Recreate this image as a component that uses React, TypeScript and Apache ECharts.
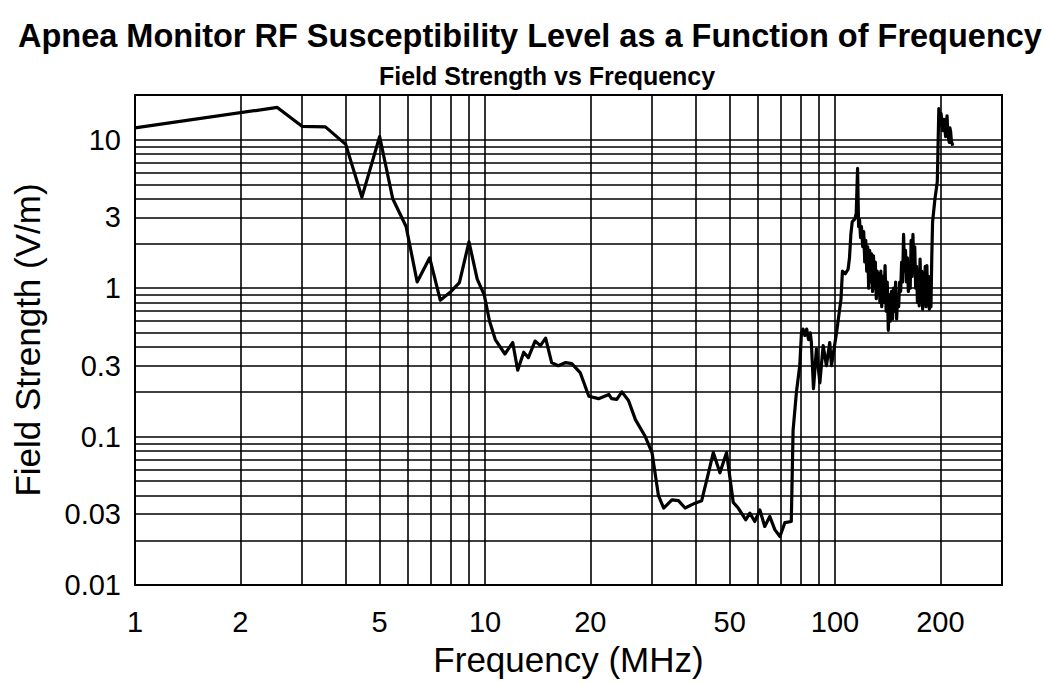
import React, { useEffect, useRef } from "react";
import * as echarts from "echarts";

const freqMHz = [
  1, 2.55, 3.0, 3.5, 4.0, 4.45, 5.0, 5.45, 5.95, 6.4, 6.95, 7.45, 8.0, 8.45, 9.0, 9.5, 9.95,
  10.3, 10.7, 11.4, 12.0, 12.4, 12.9, 13.3, 13.9, 14.4, 14.9, 15.5, 16.2, 17.0, 17.7, 18.7,
  19.8, 21.1, 22.6, 23.0, 23.8, 24.6, 25.7, 26.9, 28.7, 30.0, 31.3, 32.4, 34.2, 35.7, 37.3,
  39.8, 41.6, 43.5, 44.9, 46.9, 49.0, 51.2, 52.9, 55.6, 57.1, 59.0, 61.0, 63.0, 65.1, 67.3,
  69.6, 71.9, 75.0, 75.9, 77.6, 79.3, 80.2, 81, 82, 83, 84, 85, 85.6, 86.8, 88.5, 90.5, 92.5,
  94.5, 96.6, 97.7, 101, 104, 105, 107, 109, 110, 111, 112, 114, 115,
  116, 116.8, 117.5, 118.3, 119, 120, 120.8, 121.6, 122.4, 123.2, 124, 124.8, 125.6, 126.4,
  127.2, 128, 128.8, 129.6, 130.4, 131.2, 132, 132.8, 133.6, 134.4, 135.2, 136, 137, 138, 139,
  140, 141, 142, 143, 144, 145, 146, 147, 148, 149, 150, 151, 152, 153, 154, 155, 156, 157,
  158, 159, 160, 161, 162, 163, 164, 165, 166, 167, 168, 169, 170, 171, 172, 173, 174, 175,
  176, 177, 178, 179, 180, 181, 182, 183, 184, 185, 186, 187, 188, 189, 190, 193, 196,
  198, 200, 201, 203, 205, 207, 209, 210, 212, 213, 214, 215, 217,
];

const fieldVm = [
  12, 16.5, 12.3, 12.2, 9.3, 4.1, 10.5, 4.0, 2.6, 1.1, 1.6, 0.83, 0.95, 1.09, 2.05, 1.15, 0.9,
  0.6, 0.45, 0.36, 0.43, 0.28, 0.37, 0.34, 0.44, 0.41, 0.46, 0.315, 0.3, 0.315, 0.31, 0.27,
  0.187, 0.18, 0.192, 0.18, 0.178, 0.2, 0.175, 0.13, 0.1, 0.078, 0.04, 0.033, 0.0375, 0.037, 0.033,
  0.0356, 0.037, 0.057, 0.078, 0.057, 0.078, 0.036, 0.033, 0.0275, 0.0305, 0.0268, 0.032, 0.0248, 0.029, 0.0236,
  0.0212, 0.0263, 0.0268, 0.11, 0.2, 0.3, 0.5, 0.53, 0.48, 0.53, 0.45, 0.5, 0.43, 0.21, 0.39, 0.23, 0.41,
  0.3, 0.43, 0.3, 0.5, 0.84, 1.3, 1.25, 1.34, 1.6, 2.3, 2.8, 2.93, 3.2,
  6.4, 2.6, 2.9, 2.2, 2.6, 1.9, 2.4, 1.5, 2.1, 1.3, 1.9, 1.0, 1.8, 1.1,
  1.7, 0.95, 1.65, 1.0, 1.5, 0.85, 1.3, 0.9, 1.25, 0.8, 1.3, 0.75, 1.2, 0.8, 1.42,
  0.7, 1.1, 0.52, 0.9, 0.6, 0.95, 0.62, 1.0, 0.7, 1.1, 0.62, 0.9, 0.75, 1.1, 0.95, 1.5, 1.1, 2.3,
  1.3, 1.8, 1.1, 1.6, 0.95, 1.35, 1.0, 2.1, 1.2, 2.3, 1.3, 1.9, 1.0, 1.4, 0.8, 1.2, 0.76, 1.57,
  0.9, 1.3, 0.72, 1.2, 0.8, 1.4, 0.75, 1.42, 0.8, 1.2, 0.72, 1.1, 0.75, 1.6, 2.78, 4.0, 5.2,
  16.2, 12.5, 15, 11.5, 13.7, 10.5, 14.5, 11, 9.6, 12, 11.3, 9.8, 9.1,
];

const xGridValues = [2, 3, 4, 5, 6, 7, 8, 9, 10, 20, 30, 40, 50, 60, 70, 80, 90, 100, 200];
const xTickLabels = [1, 2, 5, 10, 20, 50, 100, 200];
const yGridValues = [
  0.02, 0.03, 0.04, 0.05, 0.06, 0.07, 0.08, 0.09,
  0.1, 0.2, 0.3, 0.4, 0.5, 0.6, 0.7, 0.8, 0.9,
  1, 2, 3, 4, 5, 6, 7, 8, 9, 10,
];
const yTickLabels = [0.01, 0.03, 0.1, 0.3, 1, 3, 10];

const FONT = "'Liberation Sans', Arial, Helvetica, sans-serif";

export default function App() {
  const ref = useRef<HTMLDivElement>(null);
  useEffect(() => {
    document.body.style.margin = "0";
    if (!ref.current) return;
    const chart = echarts.init(ref.current, undefined, { renderer: "svg" });
    const data = freqMHz.map((f, i) => [f, fieldVm[i]]);
    const gridLineStyle = { color: "#000", width: 1.6, type: "solid" as const, opacity: 1 };
    const hidden = { color: "rgba(0,0,0,0)", width: 1, type: "solid" as const };
    const tickLabel = (v: number, distance: number) => ({
      show: true,
      position: "start",
      formatter: String(v),
      distance,
      fontSize: 29,
      color: "#000",
      fontFamily: FONT,
    });
    const markData: any[] = [];
    xGridValues.forEach((v) =>
      markData.push({ xAxis: v, lineStyle: gridLineStyle, label: { show: false } })
    );
    yGridValues.forEach((v) =>
      markData.push({ yAxis: v, lineStyle: gridLineStyle, label: { show: false } })
    );
    xTickLabels.forEach((v) =>
      markData.push({ xAxis: v, lineStyle: hidden, label: tickLabel(v, 22) })
    );
    yTickLabels.forEach((v) =>
      markData.push({ yAxis: v, lineStyle: hidden, label: tickLabel(v, 14) })
    );
    chart.setOption({
      animation: false,
      backgroundColor: "#fff",
      title: [
        {
          text: "Apnea Monitor RF Susceptibility Level as a Function of Frequency",
          left: 13,
          top: 14,
          textStyle: { fontSize: 32.5, fontWeight: "bold", color: "#000", fontFamily: FONT },
        },
        {
          text: "Field Strength vs Frequency",
          left: 374,
          top: 58,
          textStyle: { fontSize: 25, fontWeight: "bold", color: "#000", fontFamily: FONT },
        },
      ],
      grid: {
        left: 135,
        right: 43,
        top: 95,
        bottom: 100,
        show: true,
        borderColor: "#000",
        borderWidth: 2,
        backgroundColor: "transparent",
        outerBoundsMode: "none",
        containLabel: false,
      },
      xAxis: {
        type: "log",
        logBase: 10,
        min: 1,
        max: 300,
        name: "Frequency (MHz)",
        nameLocation: "middle",
        nameGap: 57,
        nameTextStyle: { fontSize: 35, color: "#000", fontFamily: FONT },
        axisLine: { show: false },
        axisTick: { show: false },
        axisLabel: { show: false },
        splitLine: { show: false },
      },
      yAxis: {
        type: "log",
        logBase: 10,
        min: 0.01,
        max: 20,
        name: "Field Strength (V/m)",
        nameLocation: "middle",
        nameGap: 90,
        nameTextStyle: { fontSize: 35, color: "#000", fontFamily: FONT },
        axisLine: { show: false },
        axisTick: { show: false },
        axisLabel: { show: false },
        splitLine: { show: false },
      },
      series: [
        {
          type: "line",
          data,
          showSymbol: false,
          symbol: "none",
          z: 10,
          lineStyle: { color: "#000", width: 3.2, join: "round" },
          markLine: {
            silent: true,
            symbol: ["none", "none"],
            z: 1,
            animation: false,
            data: markData,
          },
        },
      ],
    });
    return () => chart.dispose();
  }, []);
  return <div ref={ref} style={{ width: 1045, height: 685 }} />;
}
